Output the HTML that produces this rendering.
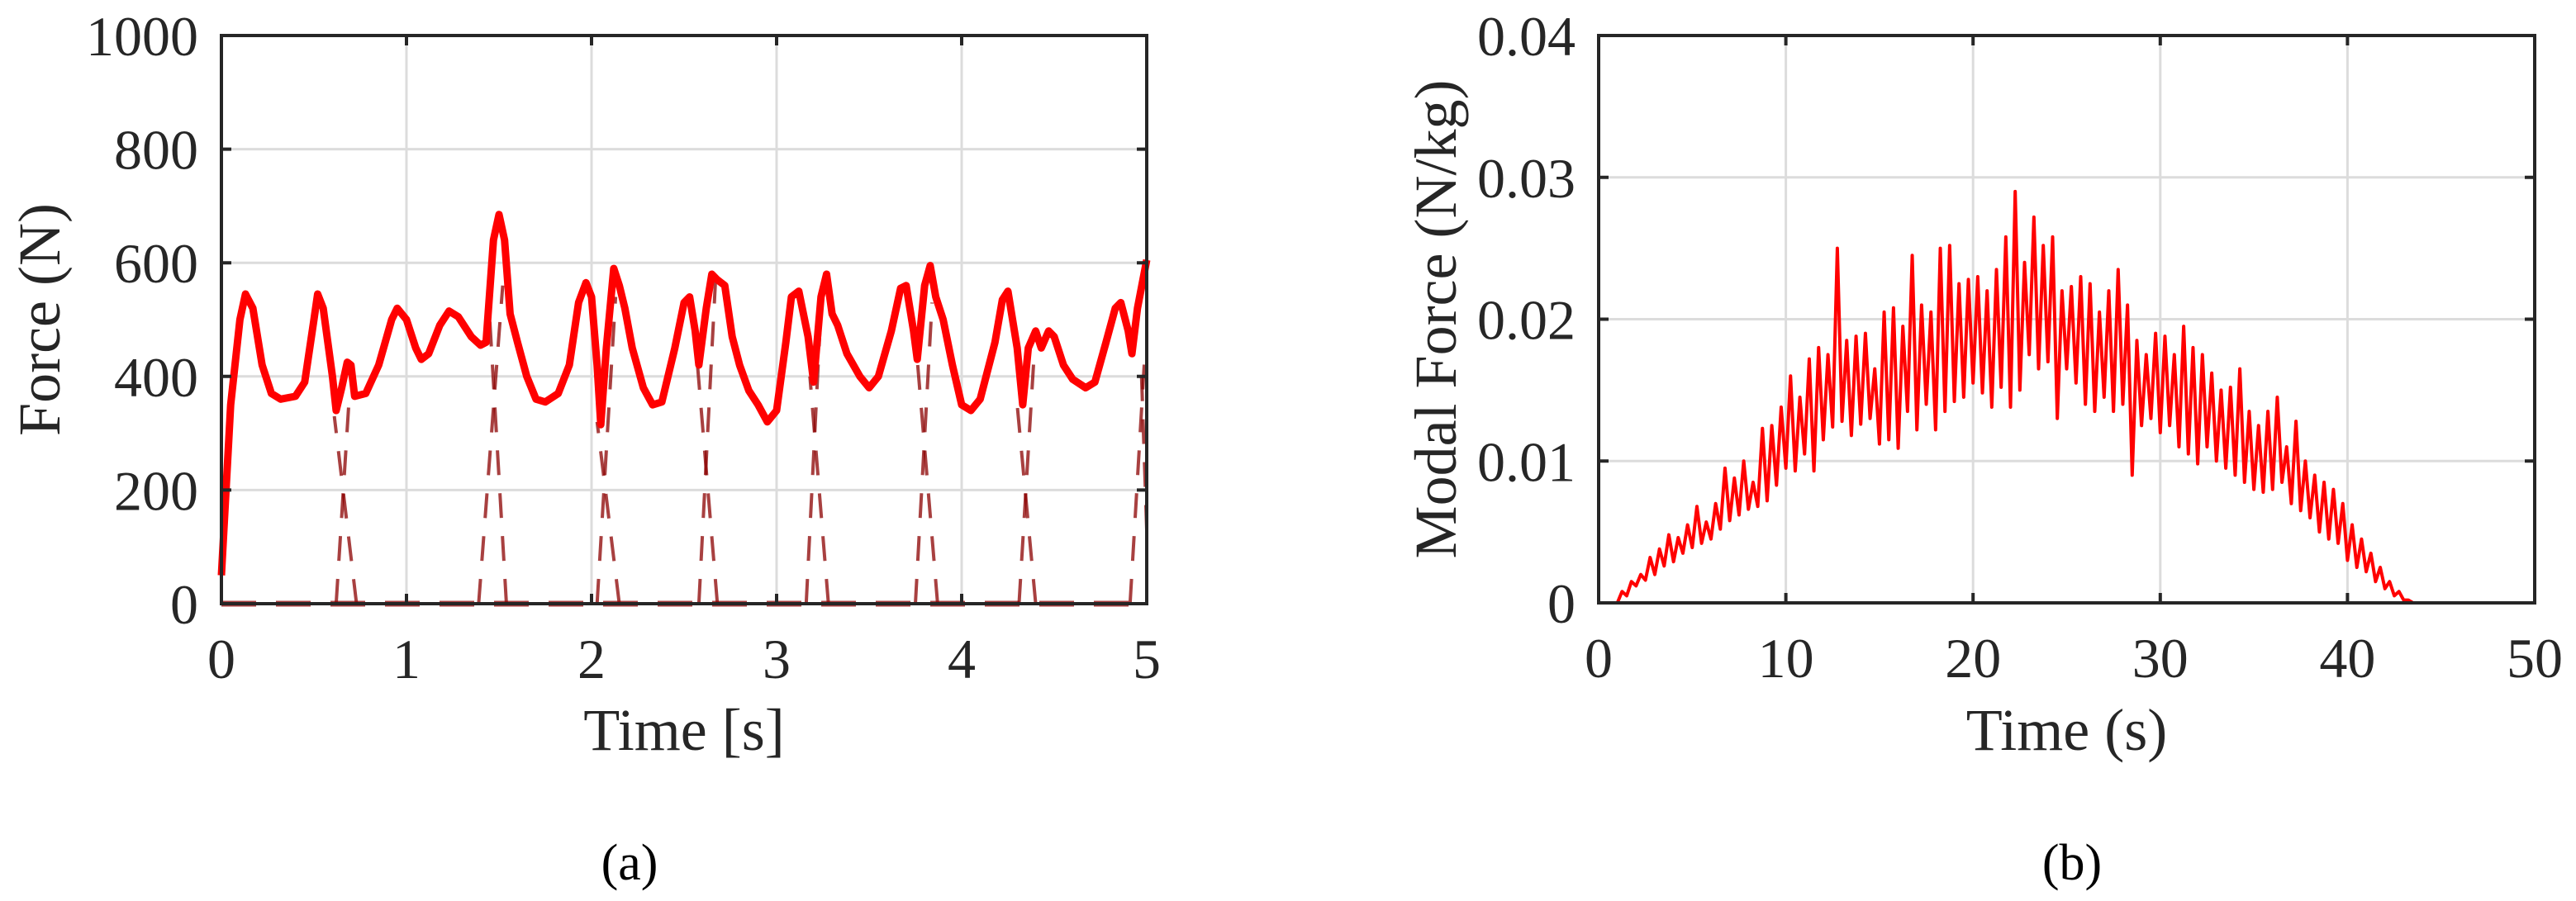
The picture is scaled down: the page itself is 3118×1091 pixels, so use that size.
<!DOCTYPE html>
<html><head><meta charset="utf-8"><style>
html,body{margin:0;padding:0;background:#fff;}
svg{display:block;}
text{font-family:"Liberation Serif",serif;fill:#262626;}
</style></head><body>
<svg id="fig" width="3118" height="1091" viewBox="0 0 3118 1091" xmlns="http://www.w3.org/2000/svg">
<g id="chartA"></g>
<g id="chartB"></g>
<text x="762" y="1065" font-size="62" text-anchor="middle" style="fill:#000">(a)</text>
<text x="2508" y="1065" font-size="62" text-anchor="middle" style="fill:#000">(b)</text>
</svg>
<script>
// ---- Chart A data ----
const aTime = [0,0.05,0.1,0.13,0.17,0.22,0.27,0.32,0.4,0.45,0.5,0.52,0.55,0.6,0.62,0.65,0.68,0.7,0.72,0.78,0.85,0.92,0.95,1.0,1.05,1.08,1.12,1.18,1.23,1.28,1.35,1.4,1.43,1.47,1.5,1.53,1.56,1.6,1.65,1.7,1.75,1.82,1.88,1.93,1.97,2.0,2.03,2.05,2.08,2.12,2.15,2.18,2.22,2.28,2.33,2.38,2.45,2.5,2.53,2.56,2.58,2.62,2.65,2.68,2.72,2.76,2.8,2.85,2.9,2.95,3.0,3.05,3.08,3.12,3.17,3.2,3.24,3.27,3.3,3.33,3.38,3.45,3.5,3.55,3.62,3.67,3.7,3.74,3.76,3.8,3.83,3.86,3.9,3.95,4.0,4.05,4.1,4.18,4.22,4.25,4.3,4.33,4.36,4.4,4.43,4.47,4.5,4.55,4.6,4.67,4.72,4.78,4.83,4.86,4.9,4.92,4.95,5.0];
const aForce = [50,350,500,545,520,420,370,360,365,390,500,545,520,400,340,380,425,420,365,370,420,500,520,500,450,430,440,490,515,505,470,455,460,640,685,640,510,460,400,360,355,370,420,530,565,540,420,315,450,590,560,520,450,380,350,355,450,530,540,480,420,520,580,570,560,470,420,375,350,320,340,460,540,550,470,390,540,580,510,490,440,400,380,400,480,555,560,480,430,560,595,540,500,420,350,340,360,460,535,550,450,350,450,480,450,480,470,420,395,380,390,460,520,530,480,440,520,605];
const aDashT0 = [0.62,0.73,1.39,1.54,2.03,2.15,2.58,2.68,3.16,3.28,3.75,3.87,4.31,4.40,4.91,5.0];
const aDashV0 = [0,0,0,0,0,0,0,0,0,0,0,0,0,0,0,130];
const aDashT1 = [0.69,0.61,1.52,1.45,2.13,2.03,2.67,2.57,3.24,3.18,3.84,3.76,4.39,4.30,4.99,4.97];
const aDashV1 = [360,330,560,500,540,320,570,430,520,400,530,430,430,350,440,420];
const aXTicks = [0,1,2,3,4,5];
const aYTicks = [0,200,400,600,800,1000];

// ---- Chart B data ----
const bTime0 = 0.75, bStep = 0.25;
const bForce = [0,0,0.8,0.5,1.5,1.2,2.0,1.6,3.2,2.0,
3.8,2.6,4.8,2.9,4.6,3.5,5.5,3.9,6.8,4.2,
5.7,4.5,7.0,5.2,9.5,5.8,8.8,6.2,10.0,6.6,
8.5,6.8,12.3,7.2,12.5,8.3,13.8,9.5,16.0,9.3,
14.5,10.5,17.2,9.3,18.0,11.5,17.5,12.4,25.0,12.8,
18.5,11.8,18.8,12.6,19.0,13.0,16.5,11.2,20.5,11.5,
20.8,10.9,19.5,13.5,24.5,12.2,21.0,14.0,20.5,12.2,
25.0,13.5,25.2,14.2,22.5,14.5,22.8,15.5,23.0,14.8,
22.0,13.8,23.5,15.2,25.8,13.8,29.0,15.0,24.0,17.5,
27.2,16.5,25.2,17.0,25.8,13.0,22.0,16.5,22.3,15.5,
23.0,14.0,22.5,13.5,20.5,14.5,22.0,13.5,23.5,14.0,
21.0,9.0,18.5,12.5,17.5,13.0,19.0,12.0,18.8,12.5,
17.5,11.0,19.5,10.5,18.0,9.8,17.5,11.0,16.2,10.0,
15.0,9.5,15.2,9.0,16.5,8.5,13.5,8.0,12.5,7.8,
13.5,8.0,14.5,8.5,11.0,7.0,12.8,6.5,10.0,6.0,
9.0,5.0,8.5,4.5,8.0,4.2,7.0,3.0,5.5,2.5,
4.5,2.2,3.5,1.5,2.5,1.0,1.5,0.5,0.8,0.2,
0.2,0];
const bXTicks = [0,10,20,30,40,50];
const bYTicks = [0,0.01,0.02,0.03,0.04];
const bYLabels = ["0","0.01","0.02","0.03","0.04"];

const NS = "http://www.w3.org/2000/svg";
function mk(parent, tag, attrs){const e=document.createElementNS(NS,tag);for(const k in attrs)e.setAttribute(k,attrs[k]);parent.appendChild(e);return e;}

function axes(g, L, R, T, B, xmin, xmax, ymin, ymax, xt, yt, ylab){
  const sx=v=>L+(v-xmin)/(xmax-xmin)*(R-L);
  const sy=v=>B-(v-ymin)/(ymax-ymin)*(B-T);
  xt.forEach((v,i)=>{
    const x=sx(v);
    if(i>0&&i<xt.length-1){const l=mk(g,'line',{x1:x,y1:T,x2:x,y2:B,stroke:'#dcdcdc','stroke-width':3});
      
      }
    const t=mk(g,'text',{x:x,y:B+90,'font-size':68,'text-anchor':'middle'});t.textContent=v;
    
    
  });
  yt.forEach((v,i)=>{
    const y=sy(v);
    if(i>0&&i<yt.length-1){const l=mk(g,'line',{x1:L,y1:y,x2:R,y2:y,stroke:'#dcdcdc','stroke-width':3});
      
      }
    const t=mk(g,'text',{x:L-28,y:y+24,'font-size':68,'text-anchor':'end'});t.textContent=ylab?ylab[i]:v;
    
    
  });
  return {sx,sy};
}
function frame(g,L,R,T,B,xt,yt,sx,sy){
  const f=mk(g,'rect',{x:L,y:T,width:R-L,height:B-T,fill:'none',stroke:'#262626','stroke-width':4});
  
  
  let d='';
  xt.forEach(v=>{const x=sx(v);d+=`M${x} ${B}v-12M${x} ${T}v12`;});
  yt.forEach(v=>{const y=sy(v);d+=`M${L} ${y}h12M${R} ${y}h-12`;});
  const p=mk(g,'path',{d:d,stroke:'#262626','stroke-width':4,fill:'none'});
  
  
}

(function(){
  const g=document.getElementById('chartA');
  const L=268,R=1388,T=43,B=731;
  const {sx,sy}=axes(g,L,R,T,B,0,5,0,1000,aXTicks,aYTicks,null);
  const dc='rgba(139,0,0,0.75)';
  const base=mk(g,'line',{x1:L,y1:sy(0),x2:R,y2:sy(0),stroke:dc,'stroke-width':7,'stroke-dasharray':'42 24'});
  
  
  for(let i=0;i<aDashT0.length;i++){
    const l=mk(g,'line',{x1:sx(aDashT0[i]),y1:sy(aDashV0[i]),x2:sx(aDashT1[i]),y2:sy(aDashV1[i]),stroke:dc,'stroke-width':4,'stroke-dasharray':'30 22'});
    
    
  }
  const pts=aTime.map((t,i)=>sx(t)+','+sy(aForce[i])).join(' ');
  const pl=mk(g,'polyline',{points:pts,fill:'none',stroke:'#ff0000','stroke-width':9,'stroke-linejoin':'round'});
  
  
  frame(g,L,R,T,B,aXTicks,aYTicks,sx,sy);
  const xl=mk(g,'text',{x:(L+R)/2,y:908,'font-size':72,'text-anchor':'middle'});xl.textContent='Time [s]';
  
  
  const yl=mk(g,'text',{x:0,y:0,'font-size':72,'text-anchor':'middle',transform:`translate(72,${(T+B)/2}) rotate(-90)`});yl.textContent='Force (N)';
  
  
})();

(function(){
  const g=document.getElementById('chartB');
  const L=1935,R=3068,T=43,B=730;
  const {sx,sy}=axes(g,L,R,T,B,0,50,0,0.04,bXTicks,bYTicks,bYLabels);
  let pts=[sx(0)+','+sy(0)];
  bForce.forEach((v,i)=>{pts.push(sx(bTime0+i*bStep)+','+sy(v/1000));});
  pts.push(sx(50)+','+sy(0));
  const pl=mk(g,'polyline',{points:pts.join(' '),fill:'none',stroke:'#ff0000','stroke-width':4,'stroke-linejoin':'round'});
  
  
  frame(g,L,R,T,B,bXTicks,bYTicks,sx,sy);
  const xl=mk(g,'text',{x:(L+R)/2,y:908,'font-size':72,'text-anchor':'middle'});xl.textContent='Time (s)';
  
  
  const yl=mk(g,'text',{x:0,y:0,'font-size':72,'text-anchor':'middle',transform:`translate(1762,${(T+B)/2}) rotate(-90)`});yl.textContent='Modal Force (N/kg)';
  
  
})();
</script>
</body></html>
